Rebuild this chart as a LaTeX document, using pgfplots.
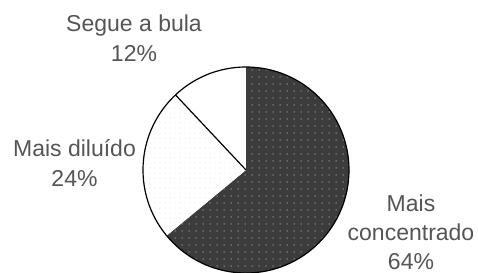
\documentclass[border=0pt]{standalone}
\usepackage{pgfplots}
\pgfplotsset{compat=1.18}
\usepackage{fontspec}
\setmainfont{Liberation Sans}
\usetikzlibrary{patterns.meta,calc}
\definecolor{darkfill}{HTML}{3C3C3C}
\definecolor{txt}{HTML}{555555}
% values (percent)
\def\vA{64}% Mais concentrado
\def\vB{24}% Mais diluido
\def\vC{12}% Segue a bula
\pgfmathsetmacro{\aA}{90-\vA*3.6}
\pgfmathsetmacro{\aB}{\aA-\vB*3.6}
\pgfmathsetmacro{\aC}{\aB-\vC*3.6}
\tikzset{lbl/.style={txt, anchor=base, inner sep=0pt, font=\fontsize{23bp}{30bp}\selectfont}}
\begin{document}
\begin{tikzpicture}
\begin{axis}[hide axis, scale only axis, width=478bp, height=273bp,
  xmin=-246, xmax=232, ymin=-103, ymax=170, clip=false]
\fill[darkfill, postaction={pattern={Dots[distance=7bp, radius=0.75bp]}, pattern color=gray!85}]
  (axis cs:0,0) -- (axis cs:0,103) arc[start angle=90, end angle=\aA, radius=103bp] -- cycle;
\fill[white, postaction={pattern={Dots[distance=5bp, radius=0.45bp]}, pattern color=gray!55}]
  (axis cs:0,0) -- ($(axis cs:0,0)+(\aA:103bp)$) arc[start angle=\aA, end angle=\aB, radius=103bp] -- cycle;
\draw[line width=1.2bp] (axis cs:0,0) -- ($(axis cs:0,0)+(\aB:103bp)$);
\draw[line width=1.2bp] (axis cs:0,0) circle[radius=103bp];
\node[lbl] at (axis cs:-112,138) {Segue a bula};
\node[lbl] at (axis cs:-112,108) {12\%};
\node[lbl] at (axis cs:-171.5,13) {Mais diluído};
\node[lbl] at (axis cs:-171.5,-17) {24\%};
\node[lbl] at (axis cs:165,-42) {Mais};
\node[lbl] at (axis cs:165,-71) {concentrado};
\node[lbl] at (axis cs:165,-99) {64\%};
\end{axis}
\pgfresetboundingbox
\path (current axis.south west) rectangle (current axis.north east);
\end{tikzpicture}
\end{document}
